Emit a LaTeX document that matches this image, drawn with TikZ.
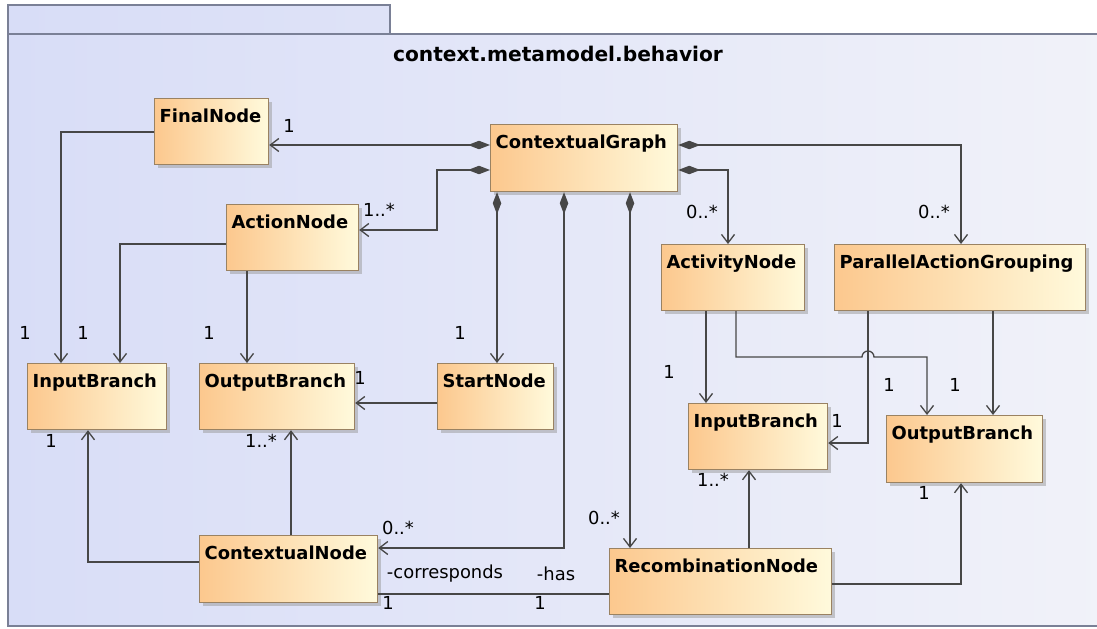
\documentclass[tikz,border=0pt]{standalone}
\usepackage{fontspec}
\setmainfont{DejaVu Sans}
\usetikzlibrary{arrows.meta,shadows}

\definecolor{pkgL}{HTML}{D8DDF7}
\definecolor{pkgR}{HTML}{F1F2F9}
\definecolor{pkgLine}{HTML}{7A8096}
\definecolor{boxL}{HTML}{FCC88E}
\definecolor{boxR}{HTML}{FFFADC}
\definecolor{boxLine}{HTML}{9A8262}
\definecolor{wireC}{HTML}{474747}

\newcommand\umlclsfont{\fontsize{10.2pt}{12pt}\selectfont\bfseries}
\newcommand\umlmultfont{\fontsize{10.2pt}{12pt}\selectfont}
\newcommand\umltitlefont{\fontsize{11.5pt}{13pt}\selectfont\bfseries}

% class box: name, x, y (top left, px), width, height (px), caption
\newcommand\umlclass[6]{%
  \pgfmathsetmacro\umlw{(#4)*0.02-0.2}%
  \pgfmathsetmacro\umld{(#5)*0.02-0.48}%
  \node[cls, anchor=north west, text width=\umlw cm, text depth=\umld cm] (#1) at (#2,#3) {#6};}

\begin{document}
\begin{tikzpicture}[x=0.02cm,y=-0.02cm,
  cls/.style={draw=boxLine, line width=0.7pt, left color=boxL, right color=boxR,
    drop shadow={shadow xshift=0.07cm, shadow yshift=-0.07cm, fill=black!40, opacity=0.5},
    inner xsep=0.1cm, inner ysep=0pt, text height=0.48cm, align=left, font=\umlclsfont},
  wire/.style={draw=wireC, line width=0.75pt},
  navi/.style={wire, -{Straight Barb[length=0.17cm,width=0.26cm]}},
  compo/.style={wire, {Diamond[length=0.44cm,width=0.17cm]}-{Straight Barb[length=0.17cm,width=0.26cm]}},
  mult/.style={font=\umlmultfont, inner sep=0pt, text=black},
]
\useasboundingbox (0,0) rectangle (1097,628);
\clip (0,0) rectangle (1097,628);
\fill[white] (0,0) rectangle (1097,628);

% package frame
\path[draw=pkgLine, line width=0.8pt, left color=pkgL, right color=pkgL!75!pkgR] (8,5) rectangle (390,34);
\path[draw=pkgLine, line width=0.8pt, left color=pkgL, right color=pkgR] (8,34) rectangle (1112,626);
\node[font=\umltitlefont, anchor=base] (title) at (558,62) {context.metamodel.behavior};

% classes
\umlclass{final}{154}{98}{114}{66}{FinalNode}
\umlclass{cg}{490}{124}{187}{67}{ContextualGraph}
\umlclass{action}{226}{204}{132}{66}{ActionNode}
\umlclass{activity}{661}{244}{143}{66}{ActivityNode}
\umlclass{pag}{834}{244}{251}{66}{ParallelActionGrouping}
\umlclass{inL}{27}{363}{139}{66}{InputBranch}
\umlclass{outL}{199}{363}{155}{66}{OutputBranch}
\umlclass{start}{437}{363}{116}{66}{StartNode}
\umlclass{inR}{688}{403}{139}{66}{InputBranch}
\umlclass{outR}{886}{415}{156}{67}{OutputBranch}
\umlclass{ctxn}{199}{535}{178}{67}{ContextualNode}
\umlclass{recomb}{609}{548}{222}{66}{RecombinationNode}

% compositions owned by ContextualGraph
\draw[compo] (cg.west |- 0,145) -- (final.east |- 0,145);
\draw[compo] (cg.west |- 0,170) -| (437,230) -- (action.east |- 0,230);
\draw[compo] (cg.south -| 497,0) -- (start.north -| 497,0);
\draw[compo] (cg.south -| 564,0) |- (ctxn.east |- 0,548);
\draw[compo] (cg.south -| 630,0) -- (recomb.north -| 630,0);
\draw[compo] (cg.east |- 0,170) -| (activity.north -| 728,0);
\draw[compo] (cg.east |- 0,145) -| (pag.north -| 961,0);

% directed associations
\draw[navi] (final.west |- 0,132) -| (inL.north -| 61,0);
\draw[navi] (action.west |- 0,244) -| (inL.north -| 120,0);
\draw[navi] (action.south -| 247,0) -- (outL.north -| 247,0);
\draw[navi] (start.west |- 0,403) -- (outL.east |- 0,403);
\draw[navi] (ctxn.west |- 0,562) -| (inL.south -| 88,0);
\draw[navi] (ctxn.north -| 291,0) -- (outL.south -| 291,0);
\draw[wire] (ctxn.east |- 0,594) -- (recomb.west |- 0,594);
\draw[navi] (activity.south -| 706,0) -- (inR.north -| 706,0);
\draw[navi] (activity.south -| 736,0) -- (736,357) -- (862,357)
  arc[start angle=180, end angle=0, radius=0.12cm] -- (927,357) -- (outR.north -| 927,0);
\draw[navi] (pag.south -| 868,0) |- (inR.east |- 0,443);
\draw[navi] (pag.south -| 993,0) -- (outR.north -| 993,0);
\draw[navi] (recomb.north -| 749,0) -- (inR.south -| 749,0);
\draw[navi] (recomb.east |- 0,584) -| (outR.south -| 961,0);

% multiplicities and role names
\node[mult] (l1) at (289,126) {1};
\node[mult] (l2) at (379,210) {1..*};
\node[mult] (l3) at (460,333) {1};
\node[mult] (l4) at (398,528) {0..*};
\node[mult] (l5) at (604,518) {0..*};
\node[mult] (l6) at (702,212) {0..*};
\node[mult] (l7) at (934,212) {0..*};
\node[mult] (l8) at (25,333) {1};
\node[mult] (l9) at (83,333) {1};
\node[mult] (l10) at (209,333) {1};
\node[mult] (l11) at (360,378) {1};
\node[mult] (l12) at (51,441) {1};
\node[mult] (l13) at (261,441) {1..*};
\node[mult] (l14) at (445,574) {-corresponds};
\node[mult] (l15) at (556,574) {-has};
\node[mult] (l16) at (388,603) {1};
\node[mult] (l17) at (540,603) {1};
\node[mult] (l18) at (669,372) {1};
\node[mult] (l19) at (889,385) {1};
\node[mult] (l20) at (955,385) {1};
\node[mult] (l21) at (837,421) {1};
\node[mult] (l22) at (713,480) {1..*};
\node[mult] (l23) at (924,493) {1};
\end{tikzpicture}
\end{document}
